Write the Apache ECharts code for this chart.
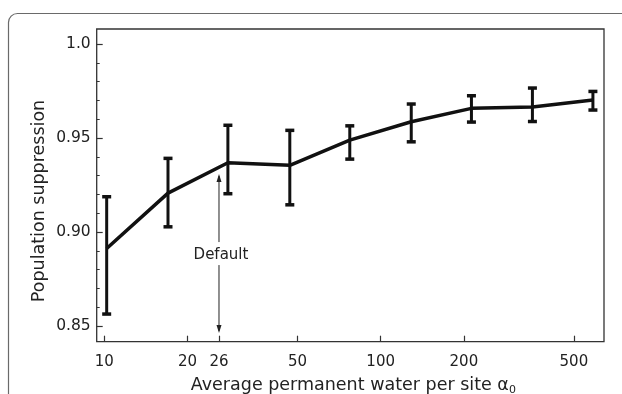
<!DOCTYPE html>
<html>
<head>
<meta charset="utf-8">
<script src="https://cdn.jsdelivr.net/npm/echarts@6/dist/echarts.min.js"></script>
<style>
html,body{margin:0;padding:0;background:#fff;}
#chart{width:622px;height:394px;}
</style>
</head>
<body>
<div id="chart"></div>
<script>
// ---- data ----
const waterValues = [10.2, 17.0, 28.0, 46.9, 77.3, 129, 213, 354, 586];
const meanValues  = [0.8913, 0.9207, 0.9369, 0.9355, 0.9489, 0.9587, 0.9658, 0.9665, 0.9702];
const upperValues = [0.9188, 0.9392, 0.9568, 0.9541, 0.9565, 0.9681, 0.9725, 0.9766, 0.9748];
const lowerValues = [0.8564, 0.9028, 0.9204, 0.9145, 0.9388, 0.9480, 0.9585, 0.9588, 0.9649];
const xTickValues = [10, 20, 26, 50, 100, 200, 500];
const yTickValues = [0.85, 0.90, 0.95, 1.0];
const yMinorTickValues = [0.85, 0.86, 0.87, 0.88, 0.89, 0.90, 0.91, 0.92, 0.93, 0.94, 0.95, 0.96, 0.97, 0.98, 0.99, 1.0];
const defaultX = 26;
const defaultArrowTip = 0.9309;
const defaultTextY = 0.8883;
const defaultArrowBottom = 0.8463;
const defaultLabel = 'Default';
const xTitle = 'Average permanent water per site α';
const xTitleSub = '0';
const yTitle = 'Population suppression';

const xMin = 9.386, xMax = 642.7;
const yMin = 0.8417, yMax = 1.008;

const chart = echarts.init(document.getElementById('chart'), null, {renderer: 'canvas'});
const FONT = 'DejaVu Sans';
const INK = '#111';

const lineData = waterValues.map((x, i) => [x, meanValues[i]]);
const errData = waterValues.map((x, i) => [x, lowerValues[i], upperValues[i]]);

function errRender(params, api) {
  const x = api.value(0), lo = api.value(1), hi = api.value(2);
  const pHi = api.coord([x, hi]);
  const pLo = api.coord([x, lo]);
  const cw = 9, ch = 3.5;
  return {
    type: 'group',
    children: [
      {type: 'line', shape: {x1: pHi[0], y1: pHi[1], x2: pLo[0], y2: pLo[1]}, style: {stroke: INK, lineWidth: 3}},
      {type: 'rect', shape: {x: pHi[0] - cw / 2, y: pHi[1] - ch / 2, width: cw, height: ch}, style: {fill: INK}},
      {type: 'rect', shape: {x: pLo[0] - cw / 2, y: pLo[1] - ch / 2, width: cw, height: ch}, style: {fill: INK}}
    ]
  };
}

function annRender(params, api) {
  const x = api.value(0);
  const pTip = api.coord([x, api.value(1)]);
  const pText = api.coord([x, api.value(2)]);
  const pBot = api.coord([x, api.value(3)]);
  const half = 9;
  const ah = 8, aw = 2.5;
  return {
    type: 'group',
    children: [
      {type: 'line', shape: {x1: pTip[0], y1: pTip[1] + 2, x2: pText[0], y2: pText[1] - half - 3}, style: {stroke: '#222', lineWidth: 1}},
      {type: 'polygon', shape: {points: [[pTip[0], pTip[1]], [pTip[0] - aw, pTip[1] + ah], [pTip[0] + aw, pTip[1] + ah]]}, style: {fill: '#222'}},
      {type: 'text', style: {text: defaultLabel, x: pText[0] + 2, y: pText[1] + 1.5, align: 'center', verticalAlign: 'middle', font: '15px "DejaVu Sans"', fill: '#222'}},
      {type: 'line', shape: {x1: pText[0], y1: pText[1] + half + 2, x2: pBot[0], y2: pBot[1] - 2}, style: {stroke: '#222', lineWidth: 1}},
      {type: 'polygon', shape: {points: [[pBot[0], pBot[1]], [pBot[0] - aw, pBot[1] - ah], [pBot[0] + aw, pBot[1] - ah]]}, style: {fill: '#222'}}
    ]
  };
}

const option = {
  animation: false,
  backgroundColor: '#fff',
  textStyle: {fontFamily: FONT},
  graphic: [{
    type: 'rect', left: 6, top: 11, z: -10,
    shape: {width: 700, height: 500, r: 9},
    style: {fill: 'none', stroke: '#6a6a6a', lineWidth: 1.2}
  }, {
    type: 'text', x: 39, y: 201, rotation: Math.PI / 2,
    style: {text: yTitle, align: 'center', verticalAlign: 'middle', font: '17.5px "DejaVu Sans"', fill: '#222'}
  }],
  grid: {
    left: 96.7, top: 29, right: 18, bottom: 52.3,
    containLabel: false, outerBoundsMode: 'none',
    show: true, borderColor: '#333', borderWidth: 1.3, backgroundColor: 'transparent'
  },
  xAxis: {
    type: 'log', logBase: 10, min: xMin, max: xMax,
    name: '{t|' + xTitle + '}{s|' + xTitleSub + '}',
    nameLocation: 'middle', nameGap: 33,
    nameTextStyle: {
      padding: [0, 0, 0, 6],
      rich: {
        t: {fontFamily: FONT, fontSize: 17.5, color: '#222'},
        s: {fontFamily: FONT, fontSize: 11, color: '#222', padding: [10, 0, 0, 0]}
      }
    },
    axisLine: {show: false},
    splitLine: {show: false},
    minorTick: {show: false},
    axisTick: {show: true, inside: true, length: 6, customValues: xTickValues, lineStyle: {color: '#333', width: 1.2}},
    axisLabel: {customValues: xTickValues, fontFamily: FONT, fontSize: 15, color: '#222', margin: 13, formatter: v => String(Math.round(v))}
  },
  yAxis: [{
    type: 'value', min: yMin, max: yMax,
    axisLine: {show: false},
    splitLine: {show: false},
    axisTick: {show: true, inside: true, length: 6, customValues: yTickValues, lineStyle: {color: '#333', width: 1.2}},
    axisLabel: {customValues: yTickValues, fontFamily: FONT, fontSize: 15.5, color: '#222', margin: 6,
      formatter: v => (Math.abs(v - 1) < 1e-9 ? '1.0' : v.toFixed(2))}
  }, {
    type: 'value', min: yMin, max: yMax, position: 'left',
    axisLine: {show: false}, splitLine: {show: false},
    axisTick: {show: true, inside: true, length: 3, customValues: yMinorTickValues, lineStyle: {color: '#333', width: 1}},
    axisLabel: {show: false}
  }],
  series: [{
    type: 'line', data: lineData, showSymbol: false, symbol: 'none',
    lineStyle: {color: INK, width: 3.5}, z: 3
  }, {
    type: 'custom', data: errData, renderItem: errRender,
    encode: {x: 0, y: [1, 2]}, z: 4
  }, {
    type: 'custom', data: [[defaultX, defaultArrowTip, defaultTextY, defaultArrowBottom]],
    renderItem: annRender, encode: {x: 0, y: [1, 2, 3]}, z: 5
  }]
};
chart.setOption(option);
</script>
</body>
</html>
